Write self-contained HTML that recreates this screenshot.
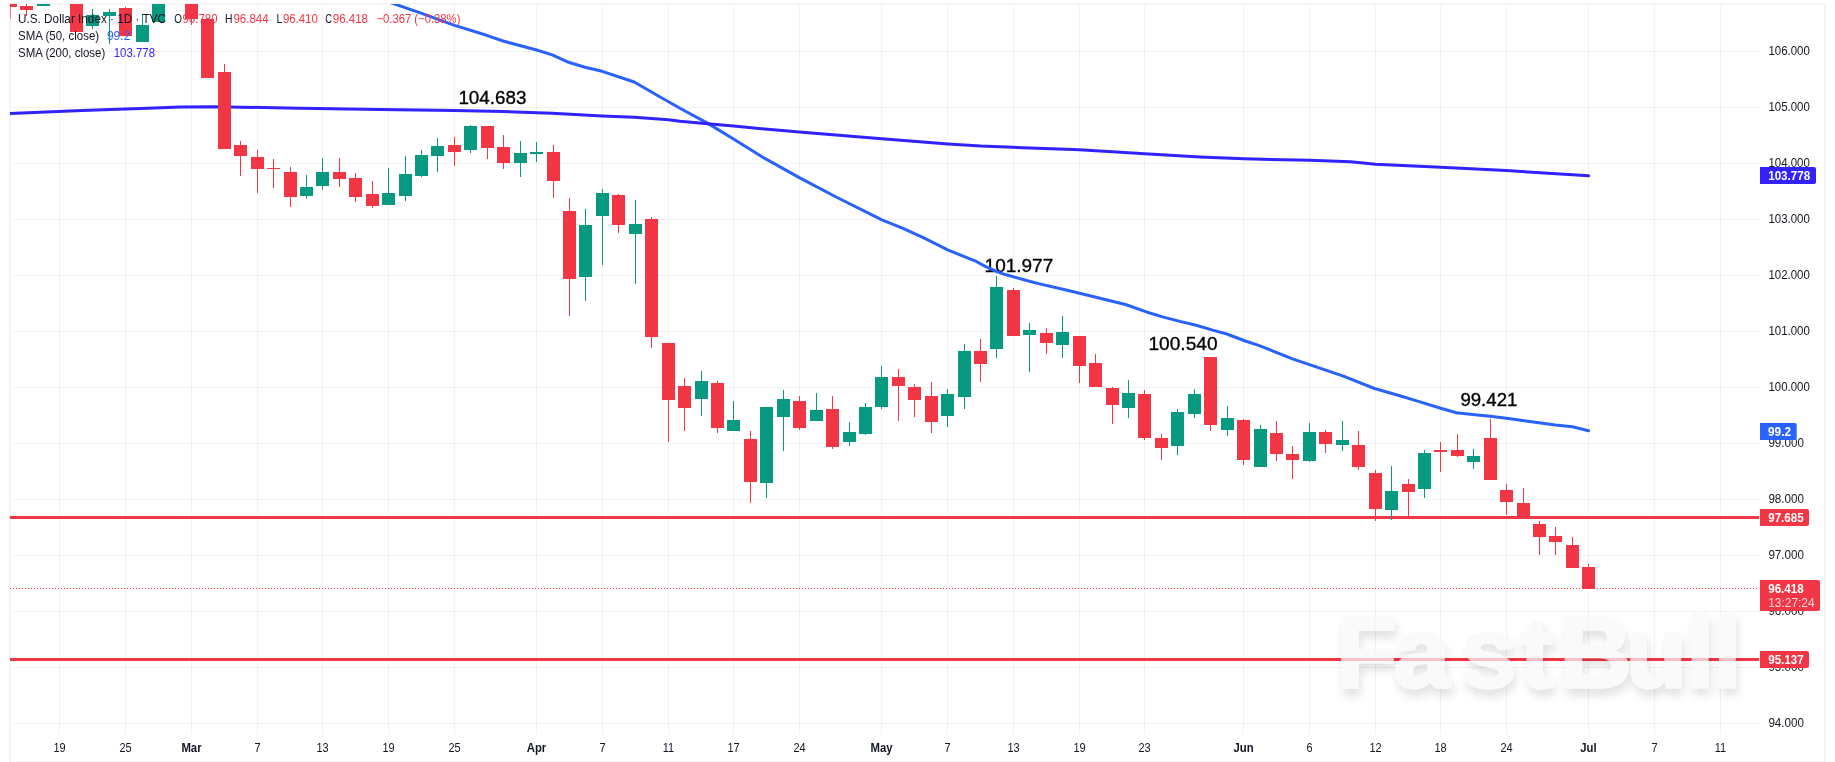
<!DOCTYPE html><html><head><meta charset="utf-8"><title>U.S. Dollar Index</title>
<style>html,body{margin:0;padding:0;background:#fff;overflow:hidden}svg{display:block;will-change:transform}text{font-family:"Liberation Sans",sans-serif}</style></head><body>
<svg width="1835" height="762" viewBox="0 0 1835 762">
<defs><clipPath id="plot"><rect x="10" y="4" width="1749" height="730"/></clipPath>
<filter id="wm" x="-5%" y="-20%" width="110%" height="150%"><feGaussianBlur in="SourceAlpha" stdDeviation="5"/><feOffset dx="2" dy="7" result="b"/><feFlood flood-color="#000" flood-opacity="0.16"/><feComposite in2="b" operator="in" result="s"/><feMerge><feMergeNode in="s"/><feMergeNode in="SourceGraphic"/></feMerge></filter></defs>
<rect width="1835" height="762" fill="#fff"/>
<g fill="#f3f3f4"><rect x="9" y="3" width="1.8" height="759"/><rect x="1824" y="3" width="2" height="759"/><rect x="9" y="3" width="1817" height="1.4"/><rect x="9" y="761" width="1817" height="1"/></g>
<g stroke="#222c2c" stroke-opacity="0.062" stroke-width="1" shape-rendering="crispEdges">
<line x1="11" y1="723.5" x2="1759" y2="723.5"/>
<line x1="11" y1="667.5" x2="1759" y2="667.5"/>
<line x1="11" y1="611.5" x2="1759" y2="611.5"/>
<line x1="11" y1="555.5" x2="1759" y2="555.5"/>
<line x1="11" y1="499.5" x2="1759" y2="499.5"/>
<line x1="11" y1="443.5" x2="1759" y2="443.5"/>
<line x1="11" y1="387.5" x2="1759" y2="387.5"/>
<line x1="11" y1="331.5" x2="1759" y2="331.5"/>
<line x1="11" y1="275.5" x2="1759" y2="275.5"/>
<line x1="11" y1="219.5" x2="1759" y2="219.5"/>
<line x1="11" y1="163.5" x2="1759" y2="163.5"/>
<line x1="11" y1="107.5" x2="1759" y2="107.5"/>
<line x1="11" y1="51.5" x2="1759" y2="51.5"/>
<line x1="59.5" y1="4.5" x2="59.5" y2="734"/>
<line x1="125.5" y1="4.5" x2="125.5" y2="734"/>
<line x1="191.5" y1="4.5" x2="191.5" y2="734"/>
<line x1="257.5" y1="4.5" x2="257.5" y2="734"/>
<line x1="322.5" y1="4.5" x2="322.5" y2="734"/>
<line x1="388.5" y1="4.5" x2="388.5" y2="734"/>
<line x1="454.5" y1="4.5" x2="454.5" y2="734"/>
<line x1="536.5" y1="4.5" x2="536.5" y2="734"/>
<line x1="602.5" y1="4.5" x2="602.5" y2="734"/>
<line x1="668.5" y1="4.5" x2="668.5" y2="734"/>
<line x1="733.5" y1="4.5" x2="733.5" y2="734"/>
<line x1="799.5" y1="4.5" x2="799.5" y2="734"/>
<line x1="881.5" y1="4.5" x2="881.5" y2="734"/>
<line x1="947.5" y1="4.5" x2="947.5" y2="734"/>
<line x1="1013.5" y1="4.5" x2="1013.5" y2="734"/>
<line x1="1079.5" y1="4.5" x2="1079.5" y2="734"/>
<line x1="1144.5" y1="4.5" x2="1144.5" y2="734"/>
<line x1="1243.5" y1="4.5" x2="1243.5" y2="734"/>
<line x1="1309.5" y1="4.5" x2="1309.5" y2="734"/>
<line x1="1375.5" y1="4.5" x2="1375.5" y2="734"/>
<line x1="1440.5" y1="4.5" x2="1440.5" y2="734"/>
<line x1="1506.5" y1="4.5" x2="1506.5" y2="734"/>
<line x1="1588.5" y1="4.5" x2="1588.5" y2="734"/>
<line x1="1654.5" y1="4.5" x2="1654.5" y2="734"/>
<line x1="1720.5" y1="4.5" x2="1720.5" y2="734"/>
</g>
<g font-size="19" fill="#000" stroke="#000" stroke-width="0.35">
<text x="458.4" y="104.3" textLength="68" lengthAdjust="spacingAndGlyphs">104.683</text>
<text x="984.6" y="271.8" textLength="68.6" lengthAdjust="spacingAndGlyphs">101.977</text>
<text x="1148.5" y="350.4" textLength="69" lengthAdjust="spacingAndGlyphs">100.540</text>
<text x="1460.4" y="405.7" textLength="57" lengthAdjust="spacingAndGlyphs">99.421</text>
</g>
<g clip-path="url(#plot)">
<line x1="10" y1="588.5" x2="1759" y2="588.5" stroke="#F23645" stroke-width="1" stroke-dasharray="1 2" shape-rendering="crispEdges"/>
<rect x="10" y="516" width="1749" height="3" fill="#F23645"/>
<rect x="10" y="658" width="1749" height="3" fill="#F23645"/>
<polyline fill="none" stroke="#2962FF" stroke-width="3" stroke-linejoin="round" stroke-linecap="round" points="368,-5 394.8,4.1 421,13.1 454.6,25.4 486.6,35.3 503,41 536.6,50 552.2,54.9 568.6,62.3 585,67.2 602.2,71.3 634.2,82 658.8,96.2 680,108.3 707.9,123.4 733.5,139 764.8,158.4 799.3,177.6 836.1,197 881.9,219.8 903,228.3 923.8,237.9 947.7,249.9 965.6,257.2 975,260.8 984.8,266.1 996.7,271.7 1004.5,274.3 1013.7,276.9 1027.5,280.8 1040.6,284.1 1065,289.8 1079.6,293.3 1125.4,304.5 1147.2,312.2 1163.5,317.1 1179.9,321.4 1196.2,325.2 1212.6,330.1 1226.8,334 1245.3,341 1260,345.9 1292.5,358.9 1343.4,376.2 1374.5,388.5 1402.4,396.5 1420,401.9 1440.7,408.2 1456.4,412.8 1472.6,414.6 1490.2,416.3 1506.5,418.2 1527.8,421.3 1555.4,425.1 1572.3,426.7 1588.6,430.7"/>
<polyline fill="none" stroke="#3122FF" stroke-width="3" stroke-linejoin="round" stroke-linecap="round" points="10.3,113.6 82,110.6 147.6,108.2 180.4,107 213.2,106.7 262.4,107.5 300,108.3 380,109.5 454.6,110.6 503,111.6 552.2,113.2 602.2,115.9 634.2,117.2 668.6,119.8 680,121.2 707.9,123.8 733.5,126.1 764.8,129 799.3,132.1 881.8,138.7 948,143.9 980.6,146 1013.2,147.3 1079.6,149.8 1144.8,153.8 1200,157 1243.9,158.8 1309.6,160.3 1350.4,161.8 1375.5,164.3 1440.7,167.3 1506.3,170.5 1588.6,175.8"/>
</g>
<g clip-path="url(#plot)" shape-rendering="crispEdges">
<rect x="10" y="4" width="1" height="15" fill="#F23645" fill-opacity="0.62"/>
<rect x="4" y="4" width="13" height="3" fill="#F23645"/>
<rect x="26" y="4" width="1" height="12" fill="#F23645"/>
<rect x="20" y="6" width="13" height="4" fill="#F23645"/>
<rect x="43" y="4" width="1" height="2" fill="#089981"/>
<rect x="37" y="4" width="13" height="2" fill="#089981"/>
<rect x="76" y="4" width="1" height="28" fill="#F23645"/>
<rect x="70" y="4" width="13" height="28" fill="#F23645"/>
<rect x="92" y="9" width="1" height="20" fill="#089981"/>
<rect x="86" y="15" width="13" height="11" fill="#089981"/>
<rect x="109" y="9" width="1" height="35" fill="#089981"/>
<rect x="103" y="12" width="13" height="4" fill="#089981"/>
<rect x="125" y="7" width="1" height="29" fill="#F23645"/>
<rect x="119" y="8" width="13" height="28" fill="#F23645"/>
<rect x="142" y="14" width="1" height="28" fill="#089981"/>
<rect x="136" y="25" width="13" height="17" fill="#089981"/>
<rect x="158" y="4" width="1" height="18" fill="#089981"/>
<rect x="152" y="4" width="13" height="18" fill="#089981"/>
<rect x="191" y="4" width="1" height="21" fill="#F23645"/>
<rect x="185" y="4" width="13" height="15" fill="#F23645"/>
<rect x="207" y="19" width="1" height="59" fill="#F23645"/>
<rect x="201" y="19" width="13" height="59" fill="#F23645"/>
<rect x="224" y="64" width="1" height="85" fill="#F23645"/>
<rect x="218" y="72" width="13" height="77" fill="#F23645"/>
<rect x="240" y="141" width="1" height="35" fill="#F23645"/>
<rect x="234" y="145" width="13" height="11" fill="#F23645"/>
<rect x="257" y="150" width="1" height="43" fill="#F23645"/>
<rect x="251" y="157" width="13" height="12" fill="#F23645"/>
<rect x="273" y="159" width="1" height="29" fill="#F23645"/>
<rect x="267" y="168" width="13" height="1" fill="#F23645"/>
<rect x="290" y="167" width="1" height="40" fill="#F23645"/>
<rect x="284" y="172" width="13" height="25" fill="#F23645"/>
<rect x="306" y="175" width="1" height="24" fill="#089981"/>
<rect x="300" y="187" width="13" height="9" fill="#089981"/>
<rect x="322" y="158" width="1" height="32" fill="#089981"/>
<rect x="316" y="172" width="13" height="14" fill="#089981"/>
<rect x="339" y="158" width="1" height="29" fill="#F23645"/>
<rect x="333" y="172" width="13" height="7" fill="#F23645"/>
<rect x="355" y="173" width="1" height="29" fill="#F23645"/>
<rect x="349" y="178" width="13" height="19" fill="#F23645"/>
<rect x="372" y="181" width="1" height="27" fill="#F23645"/>
<rect x="366" y="194" width="13" height="12" fill="#F23645"/>
<rect x="388" y="168" width="1" height="37" fill="#089981"/>
<rect x="382" y="193" width="13" height="12" fill="#089981"/>
<rect x="405" y="156" width="1" height="45" fill="#089981"/>
<rect x="399" y="174" width="13" height="22" fill="#089981"/>
<rect x="421" y="150" width="1" height="27" fill="#089981"/>
<rect x="415" y="155" width="13" height="21" fill="#089981"/>
<rect x="437" y="138" width="1" height="34" fill="#089981"/>
<rect x="431" y="146" width="13" height="10" fill="#089981"/>
<rect x="454" y="137" width="1" height="29" fill="#F23645"/>
<rect x="448" y="145" width="13" height="7" fill="#F23645"/>
<rect x="470" y="125" width="1" height="28" fill="#089981"/>
<rect x="464" y="126" width="13" height="24" fill="#089981"/>
<rect x="487" y="126" width="1" height="33" fill="#F23645"/>
<rect x="481" y="126" width="13" height="22" fill="#F23645"/>
<rect x="503" y="135" width="1" height="34" fill="#F23645"/>
<rect x="497" y="147" width="13" height="16" fill="#F23645"/>
<rect x="520" y="141" width="1" height="36" fill="#089981"/>
<rect x="514" y="153" width="13" height="10" fill="#089981"/>
<rect x="536" y="142" width="1" height="20" fill="#089981"/>
<rect x="530" y="152" width="13" height="2" fill="#089981"/>
<rect x="553" y="145" width="1" height="53" fill="#F23645"/>
<rect x="547" y="152" width="13" height="29" fill="#F23645"/>
<rect x="569" y="198" width="1" height="118" fill="#F23645"/>
<rect x="563" y="211" width="13" height="68" fill="#F23645"/>
<rect x="585" y="209" width="1" height="92" fill="#089981"/>
<rect x="579" y="225" width="13" height="52" fill="#089981"/>
<rect x="602" y="189" width="1" height="76" fill="#089981"/>
<rect x="596" y="193" width="13" height="23" fill="#089981"/>
<rect x="618" y="194" width="1" height="39" fill="#F23645"/>
<rect x="612" y="195" width="13" height="30" fill="#F23645"/>
<rect x="635" y="200" width="1" height="84" fill="#089981"/>
<rect x="629" y="224" width="13" height="10" fill="#089981"/>
<rect x="651" y="217" width="1" height="131" fill="#F23645"/>
<rect x="645" y="219" width="13" height="118" fill="#F23645"/>
<rect x="668" y="343" width="1" height="99" fill="#F23645"/>
<rect x="662" y="343" width="13" height="57" fill="#F23645"/>
<rect x="684" y="378" width="1" height="53" fill="#F23645"/>
<rect x="678" y="386" width="13" height="22" fill="#F23645"/>
<rect x="701" y="371" width="1" height="45" fill="#089981"/>
<rect x="695" y="381" width="13" height="18" fill="#089981"/>
<rect x="717" y="381" width="1" height="52" fill="#F23645"/>
<rect x="711" y="383" width="13" height="45" fill="#F23645"/>
<rect x="733" y="401" width="1" height="30" fill="#089981"/>
<rect x="727" y="420" width="13" height="11" fill="#089981"/>
<rect x="750" y="431" width="1" height="72" fill="#F23645"/>
<rect x="744" y="439" width="13" height="43" fill="#F23645"/>
<rect x="766" y="407" width="1" height="91" fill="#089981"/>
<rect x="760" y="407" width="13" height="76" fill="#089981"/>
<rect x="783" y="390" width="1" height="61" fill="#089981"/>
<rect x="777" y="399" width="13" height="18" fill="#089981"/>
<rect x="799" y="396" width="1" height="34" fill="#F23645"/>
<rect x="793" y="401" width="13" height="27" fill="#F23645"/>
<rect x="816" y="393" width="1" height="28" fill="#089981"/>
<rect x="810" y="410" width="13" height="11" fill="#089981"/>
<rect x="832" y="396" width="1" height="53" fill="#F23645"/>
<rect x="826" y="409" width="13" height="38" fill="#F23645"/>
<rect x="849" y="422" width="1" height="24" fill="#089981"/>
<rect x="843" y="432" width="13" height="10" fill="#089981"/>
<rect x="865" y="403" width="1" height="32" fill="#089981"/>
<rect x="859" y="407" width="13" height="27" fill="#089981"/>
<rect x="881" y="366" width="1" height="43" fill="#089981"/>
<rect x="875" y="377" width="13" height="30" fill="#089981"/>
<rect x="898" y="369" width="1" height="52" fill="#F23645"/>
<rect x="892" y="377" width="13" height="9" fill="#F23645"/>
<rect x="914" y="384" width="1" height="33" fill="#F23645"/>
<rect x="908" y="387" width="13" height="13" fill="#F23645"/>
<rect x="931" y="382" width="1" height="51" fill="#F23645"/>
<rect x="925" y="396" width="13" height="26" fill="#F23645"/>
<rect x="947" y="389" width="1" height="38" fill="#089981"/>
<rect x="941" y="394" width="13" height="22" fill="#089981"/>
<rect x="964" y="344" width="1" height="65" fill="#089981"/>
<rect x="958" y="351" width="13" height="46" fill="#089981"/>
<rect x="980" y="339" width="1" height="43" fill="#F23645"/>
<rect x="974" y="351" width="13" height="13" fill="#F23645"/>
<rect x="996" y="276" width="1" height="82" fill="#089981"/>
<rect x="990" y="287" width="13" height="62" fill="#089981"/>
<rect x="1013" y="288" width="1" height="48" fill="#F23645"/>
<rect x="1007" y="290" width="13" height="46" fill="#F23645"/>
<rect x="1029" y="323" width="1" height="49" fill="#089981"/>
<rect x="1023" y="330" width="13" height="5" fill="#089981"/>
<rect x="1046" y="328" width="1" height="26" fill="#F23645"/>
<rect x="1040" y="333" width="13" height="10" fill="#F23645"/>
<rect x="1062" y="316" width="1" height="42" fill="#089981"/>
<rect x="1056" y="332" width="13" height="13" fill="#089981"/>
<rect x="1079" y="336" width="1" height="47" fill="#F23645"/>
<rect x="1073" y="336" width="13" height="30" fill="#F23645"/>
<rect x="1095" y="354" width="1" height="33" fill="#F23645"/>
<rect x="1089" y="363" width="13" height="24" fill="#F23645"/>
<rect x="1112" y="387" width="1" height="37" fill="#F23645"/>
<rect x="1106" y="388" width="13" height="17" fill="#F23645"/>
<rect x="1128" y="380" width="1" height="38" fill="#089981"/>
<rect x="1122" y="393" width="13" height="15" fill="#089981"/>
<rect x="1144" y="390" width="1" height="50" fill="#F23645"/>
<rect x="1138" y="394" width="13" height="44" fill="#F23645"/>
<rect x="1161" y="434" width="1" height="26" fill="#F23645"/>
<rect x="1155" y="438" width="13" height="10" fill="#F23645"/>
<rect x="1177" y="409" width="1" height="46" fill="#089981"/>
<rect x="1171" y="412" width="13" height="34" fill="#089981"/>
<rect x="1194" y="389" width="1" height="29" fill="#089981"/>
<rect x="1188" y="394" width="13" height="20" fill="#089981"/>
<rect x="1210" y="357" width="1" height="74" fill="#F23645"/>
<rect x="1204" y="357" width="13" height="68" fill="#F23645"/>
<rect x="1227" y="406" width="1" height="30" fill="#089981"/>
<rect x="1221" y="418" width="13" height="12" fill="#089981"/>
<rect x="1243" y="419" width="1" height="46" fill="#F23645"/>
<rect x="1237" y="420" width="13" height="40" fill="#F23645"/>
<rect x="1260" y="425" width="1" height="42" fill="#089981"/>
<rect x="1254" y="429" width="13" height="38" fill="#089981"/>
<rect x="1276" y="421" width="1" height="40" fill="#F23645"/>
<rect x="1270" y="433" width="13" height="21" fill="#F23645"/>
<rect x="1292" y="446" width="1" height="33" fill="#F23645"/>
<rect x="1286" y="454" width="13" height="6" fill="#F23645"/>
<rect x="1309" y="423" width="1" height="39" fill="#089981"/>
<rect x="1303" y="432" width="13" height="29" fill="#089981"/>
<rect x="1325" y="430" width="1" height="23" fill="#F23645"/>
<rect x="1319" y="432" width="13" height="12" fill="#F23645"/>
<rect x="1342" y="421" width="1" height="30" fill="#089981"/>
<rect x="1336" y="440" width="13" height="5" fill="#089981"/>
<rect x="1358" y="431" width="1" height="39" fill="#F23645"/>
<rect x="1352" y="445" width="13" height="22" fill="#F23645"/>
<rect x="1375" y="470" width="1" height="51" fill="#F23645"/>
<rect x="1369" y="473" width="13" height="36" fill="#F23645"/>
<rect x="1391" y="466" width="1" height="54" fill="#089981"/>
<rect x="1385" y="491" width="13" height="19" fill="#089981"/>
<rect x="1408" y="479" width="1" height="38" fill="#F23645"/>
<rect x="1402" y="484" width="13" height="8" fill="#F23645"/>
<rect x="1424" y="450" width="1" height="48" fill="#089981"/>
<rect x="1418" y="453" width="13" height="36" fill="#089981"/>
<rect x="1440" y="442" width="1" height="30" fill="#F23645"/>
<rect x="1434" y="450" width="13" height="2" fill="#F23645"/>
<rect x="1457" y="434" width="1" height="23" fill="#F23645"/>
<rect x="1451" y="450" width="13" height="6" fill="#F23645"/>
<rect x="1473" y="449" width="1" height="20" fill="#089981"/>
<rect x="1467" y="456" width="13" height="6" fill="#089981"/>
<rect x="1490" y="419" width="1" height="61" fill="#F23645"/>
<rect x="1484" y="438" width="13" height="42" fill="#F23645"/>
<rect x="1506" y="484" width="1" height="31" fill="#F23645"/>
<rect x="1500" y="490" width="13" height="12" fill="#F23645"/>
<rect x="1523" y="488" width="1" height="30" fill="#F23645"/>
<rect x="1517" y="503" width="13" height="15" fill="#F23645"/>
<rect x="1539" y="521" width="1" height="34" fill="#F23645"/>
<rect x="1533" y="524" width="13" height="13" fill="#F23645"/>
<rect x="1555" y="527" width="1" height="28" fill="#F23645"/>
<rect x="1549" y="536" width="13" height="6" fill="#F23645"/>
<rect x="1572" y="537" width="1" height="31" fill="#F23645"/>
<rect x="1566" y="545" width="13" height="23" fill="#F23645"/>
<rect x="1588" y="564" width="1" height="25" fill="#F23645"/>
<rect x="1582" y="567" width="13" height="22" fill="#F23645"/>
</g>
<text x="1336 1394.2 1461 1520 1559.5 1625.4 1686.3 1713.5" y="686.5" font-size="100" font-weight="bold" fill="#f9f9f9" stroke="#f9f9f9" stroke-width="3" stroke-linejoin="round" opacity="0.72" filter="url(#wm)">FastBull</text>
<g font-size="12.2" fill="#131722">
<text x="1768.4" y="726.9" textLength="35.5" lengthAdjust="spacingAndGlyphs">94.000</text>
<text x="1768.4" y="670.9" textLength="35.5" lengthAdjust="spacingAndGlyphs">95.000</text>
<text x="1768.4" y="614.9" textLength="35.5" lengthAdjust="spacingAndGlyphs">96.000</text>
<text x="1768.4" y="558.9" textLength="35.5" lengthAdjust="spacingAndGlyphs">97.000</text>
<text x="1768.4" y="502.9" textLength="35.5" lengthAdjust="spacingAndGlyphs">98.000</text>
<text x="1768.4" y="446.9" textLength="35.5" lengthAdjust="spacingAndGlyphs">99.000</text>
<text x="1768.4" y="390.9" textLength="41.5" lengthAdjust="spacingAndGlyphs">100.000</text>
<text x="1768.4" y="334.9" textLength="41.5" lengthAdjust="spacingAndGlyphs">101.000</text>
<text x="1768.4" y="278.9" textLength="41.5" lengthAdjust="spacingAndGlyphs">102.000</text>
<text x="1768.4" y="222.9" textLength="41.5" lengthAdjust="spacingAndGlyphs">103.000</text>
<text x="1768.4" y="166.9" textLength="41.5" lengthAdjust="spacingAndGlyphs">104.000</text>
<text x="1768.4" y="110.9" textLength="41.5" lengthAdjust="spacingAndGlyphs">105.000</text>
<text x="1768.4" y="54.9" textLength="41.5" lengthAdjust="spacingAndGlyphs">106.000</text>
</g>
<g font-size="12.2" font-weight="bold" fill="#fff">
<path d="M1760 167 H1814 a2 2 0 0 1 2 2 V182 a2 2 0 0 1 -2 2 H1760 Z" fill="#3122FF"/>
<text x="1768.2" y="179.8" textLength="42" lengthAdjust="spacingAndGlyphs">103.778</text>
<path d="M1760 423 H1794.7 a2 2 0 0 1 2 2 V438 a2 2 0 0 1 -2 2 H1760 Z" fill="#2962FF"/>
<text x="1768" y="435.8" textLength="23" lengthAdjust="spacingAndGlyphs">99.2</text>
<path d="M1760 509 H1807 a2 2 0 0 1 2 2 V524 a2 2 0 0 1 -2 2 H1760 Z" fill="#F23645"/>
<text x="1768.2" y="521.8" textLength="35.5" lengthAdjust="spacingAndGlyphs">97.685</text>
<path d="M1760 580 H1818 a2 2 0 0 1 2 2 V609 a2 2 0 0 1 -2 2 H1760 Z" fill="#F23645"/>
<text x="1768.2" y="592.6" textLength="35.5" lengthAdjust="spacingAndGlyphs">96.418</text>
<text x="1768.2" y="607" font-weight="normal" fill-opacity="0.8" textLength="46.4" lengthAdjust="spacingAndGlyphs">13:27:24</text>
<path d="M1760 651 H1807 a2 2 0 0 1 2 2 V666 a2 2 0 0 1 -2 2 H1760 Z" fill="#F23645"/>
<text x="1768.2" y="663.8" textLength="35.5" lengthAdjust="spacingAndGlyphs">95.137</text>
</g>
<g font-size="12.2" fill="#131722" text-anchor="middle">
<text transform="translate(59.5 751.6) scale(0.9 1)">19</text>
<text transform="translate(125.5 751.6) scale(0.9 1)">25</text>
<text transform="translate(191.5 751.6) scale(0.93 1)" font-weight="bold">Mar</text>
<text transform="translate(257.5 751.6) scale(0.9 1)">7</text>
<text transform="translate(322.5 751.6) scale(0.9 1)">13</text>
<text transform="translate(388.5 751.6) scale(0.9 1)">19</text>
<text transform="translate(454.5 751.6) scale(0.9 1)">25</text>
<text transform="translate(536.5 751.6) scale(0.93 1)" font-weight="bold">Apr</text>
<text transform="translate(602.5 751.6) scale(0.9 1)">7</text>
<text transform="translate(668.5 751.6) scale(0.9 1)">11</text>
<text transform="translate(733.5 751.6) scale(0.9 1)">17</text>
<text transform="translate(799.5 751.6) scale(0.9 1)">24</text>
<text transform="translate(881.5 751.6) scale(0.93 1)" font-weight="bold">May</text>
<text transform="translate(947.5 751.6) scale(0.9 1)">7</text>
<text transform="translate(1013.5 751.6) scale(0.9 1)">13</text>
<text transform="translate(1079.5 751.6) scale(0.9 1)">19</text>
<text transform="translate(1144.5 751.6) scale(0.9 1)">23</text>
<text transform="translate(1243.5 751.6) scale(0.93 1)" font-weight="bold">Jun</text>
<text transform="translate(1309.5 751.6) scale(0.9 1)">6</text>
<text transform="translate(1375.5 751.6) scale(0.9 1)">12</text>
<text transform="translate(1440.5 751.6) scale(0.9 1)">18</text>
<text transform="translate(1506.5 751.6) scale(0.9 1)">24</text>
<text transform="translate(1588.5 751.6) scale(0.93 1)" font-weight="bold">Jul</text>
<text transform="translate(1654.5 751.6) scale(0.9 1)">7</text>
<text transform="translate(1720.5 751.6) scale(0.9 1)">11</text>
</g>
<g font-size="12.2" fill="#131722">
<text x="18" y="22.6" textLength="148" lengthAdjust="spacingAndGlyphs">U.S. Dollar Index · 1D · TVC</text>
<text x="174.2" y="22.6" textLength="7.7" lengthAdjust="spacingAndGlyphs">O</text>
<text x="182.5" y="22.6" textLength="35" lengthAdjust="spacingAndGlyphs" fill="#F23645">96.780</text>
<text x="225" y="22.6" textLength="7.5" lengthAdjust="spacingAndGlyphs">H</text>
<text x="233.4" y="22.6" textLength="35.2" lengthAdjust="spacingAndGlyphs" fill="#F23645">96.844</text>
<text x="276.4" y="22.6" textLength="5.8" lengthAdjust="spacingAndGlyphs">L</text>
<text x="282.9" y="22.6" textLength="34.9" lengthAdjust="spacingAndGlyphs" fill="#F23645">96.410</text>
<text x="325.3" y="22.6" textLength="6.8" lengthAdjust="spacingAndGlyphs">C</text>
<text x="332.8" y="22.6" textLength="35.2" lengthAdjust="spacingAndGlyphs" fill="#F23645">96.418</text>
<text x="376.4" y="22.6" textLength="84" lengthAdjust="spacingAndGlyphs" fill="#F23645">−0.367 (−0.38%)</text>
<text x="18" y="39.9" textLength="81.2" lengthAdjust="spacingAndGlyphs">SMA (50, close)</text>
<text x="106.9" y="39.9" textLength="23.5" lengthAdjust="spacingAndGlyphs" fill="#2962FF">99.2</text>
<text x="18" y="56.9" textLength="87.3" lengthAdjust="spacingAndGlyphs">SMA (200, close)</text>
<text x="113.7" y="56.9" textLength="41.3" lengthAdjust="spacingAndGlyphs" fill="#3122FF">103.778</text>
</g>
</svg></body></html>
